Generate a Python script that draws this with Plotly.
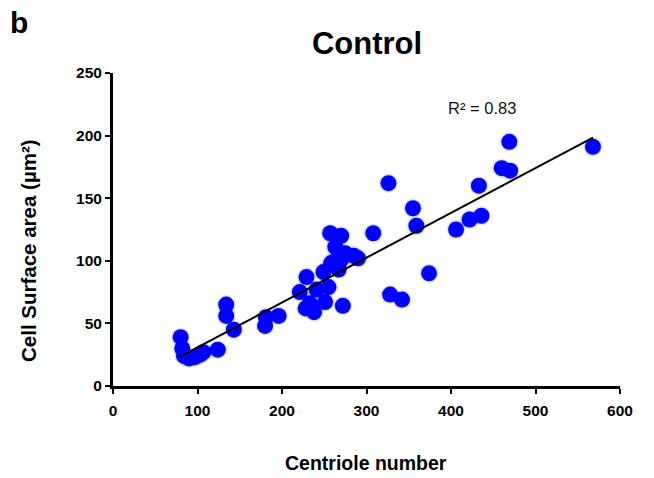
import plotly.graph_objects as go

# Data
centriole_number = [80, 82, 84, 90, 97, 103, 107, 124, 134, 134, 143, 181, 180, 196,
                    221, 229, 228, 233, 238, 241, 249, 251, 255, 258, 261, 257, 270,
                    263, 267, 270, 275, 285, 290, 272, 308, 326, 328, 342, 355, 359,
                    374, 406, 422, 436, 433, 460, 470, 469, 568]
surface_area = [39, 30, 24, 22, 23, 25, 27, 29, 65, 56, 45, 55, 48, 56,
                75, 87, 62, 66, 59, 77, 91, 67, 79, 98, 99, 122, 120,
                111, 93, 101, 106, 104, 102, 64, 122, 162, 73, 69, 142, 128,
                90, 125, 133, 136, 160, 174, 172, 195, 191]

# Trendline
trend_slope = 0.358
trend_intercept = -4.9
trend_x = [min(centriole_number), max(centriole_number)]
trend_y = [trend_intercept + trend_slope * v for v in trend_x]

x_ticks = [0, 100, 200, 300, 400, 500, 600]
y_ticks = [0, 50, 100, 150, 200, 250]

FONT = "Liberation Sans, Arial, sans-serif"

fig = go.Figure()
# soft halo to mimic the blurred marker edges / shadow
fig.add_trace(go.Scatter(
    x=centriole_number, y=surface_area, mode="markers",
    marker=dict(color="rgba(0,0,80,0.12)", size=19, line=dict(width=0)),
    showlegend=False, hoverinfo="skip"))
fig.add_trace(go.Scatter(
    x=centriole_number, y=surface_area, mode="markers",
    marker=dict(color="#0000FF", size=16, line=dict(width=0)),
    showlegend=False))
fig.add_trace(go.Scatter(
    x=trend_x, y=trend_y, mode="lines",
    line=dict(color="black", width=2), showlegend=False))

fig.update_layout(
    width=654, height=478,
    margin=dict(l=113, r=34, t=73, b=92),
    paper_bgcolor="white", plot_bgcolor="white",
    font=dict(family=FONT, color="black"),
    title=dict(text="<b>Control</b>", x=367 / 654, xanchor="center",
               y=1 - 43 / 478, yanchor="middle",
               font=dict(size=31, family=FONT, color="black")),
    annotations=[
        dict(text="<b>b</b>", xref="paper", yref="paper",
             x=(19 - 113) / 507, y=1 + (73 - 22) / 313, xanchor="center", yanchor="middle",
             showarrow=False, font=dict(size=30, family=FONT, color="black")),
        dict(text="R² = 0.83", xref="x", yref="y",
             x=437, y=222, xanchor="center", yanchor="middle",
             showarrow=False, font=dict(size=16.5, family=FONT, color="#111")),
        dict(text="<b>Centriole number</b>", xref="paper", yref="paper",
             x=(366 - 113) / 507, y=(386 - 463) / 313, xanchor="center", yanchor="middle",
             showarrow=False, font=dict(size=19.5, family=FONT, color="black")),
        dict(text="<b>Cell Surface area (µm²)</b>", xref="paper", yref="paper",
             x=(28 - 113) / 507, y=(386 - 251) / 313, xanchor="center", yanchor="middle",
             textangle=-90,
             showarrow=False, font=dict(size=20.5, family=FONT, color="black")),
    ],
)
fig.update_xaxes(
    range=[0, 600], tickvals=x_ticks, ticktext=[str(v) for v in x_ticks],
    showline=True, linecolor="black", linewidth=3, mirror=False,
    ticks="outside", ticklen=5, tickwidth=2, tickcolor="black",
    showgrid=False, zeroline=False, ticklabelstandoff=3,
    tickfont=dict(size=15.5, family=FONT, color="black", weight="bold"))
fig.update_yaxes(
    range=[0, 250], tickvals=y_ticks, ticktext=[str(v) for v in y_ticks],
    showline=True, linecolor="black", linewidth=3, mirror=False,
    ticks="outside", ticklen=5, tickwidth=2, tickcolor="black",
    showgrid=False, zeroline=False,
    tickfont=dict(size=15.5, family=FONT, color="black", weight="bold"))

fig.write_html("out.html")
